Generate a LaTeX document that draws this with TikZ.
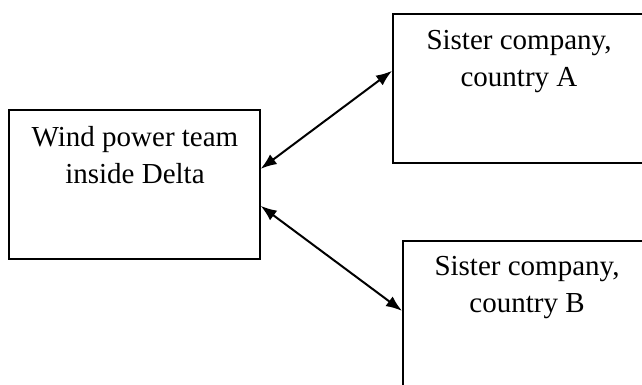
\documentclass[tikz,border=0pt]{standalone}
\usepackage{fontspec}
\setmainfont{Liberation Serif}
\usetikzlibrary{arrows.meta}
\tikzset{
  box/.style={draw=black, line width=1.7pt, rectangle, anchor=north west, inner sep=0pt},
  lbl/.style={align=center, anchor=north, inner sep=0pt, font=\fontsize{29}{37}\selectfont},
  link/.style={line width=2pt, {Latex[length=16pt,width=12pt]}-{Latex[length=16pt,width=12pt]}}
}
\begin{document}
\begin{tikzpicture}[x=1pt,y=-1pt]
  \useasboundingbox (0,0) rectangle (642,384);
  \clip (0,0) rectangle (642,384);
  % the three boxes (the two on the right run past the page edge)
  \node[box, minimum width=251pt, minimum height=149pt] (team) at (8,109) {};
  \node[box, minimum width=270pt, minimum height=149pt] (compA) at (392,13) {};
  \node[box, minimum width=260pt, minimum height=170pt] (compB) at (402,240) {};
  % box captions
  \node[lbl] (teamtxt) at (135,126) {Wind power team\\inside Delta};
  \node[lbl] (compAtxt) at (519,30) {Sister company,\\country A};
  \node[lbl] (compBtxt) at (527,256) {Sister company,\\country B};
  % connector end points on the box edges
  \coordinate (teamUp) at ([yshift=15.5pt]team.east);
  \coordinate (teamDown) at ([yshift=-21.5pt]team.east);
  \coordinate (compAin) at ([yshift=17.5pt]compA.west);
  \coordinate (compBin) at ([yshift=15pt]compB.west);
  \draw[link] (teamUp) -- (compAin);
  \draw[link] (teamDown) -- (compBin);
\end{tikzpicture}
\end{document}
